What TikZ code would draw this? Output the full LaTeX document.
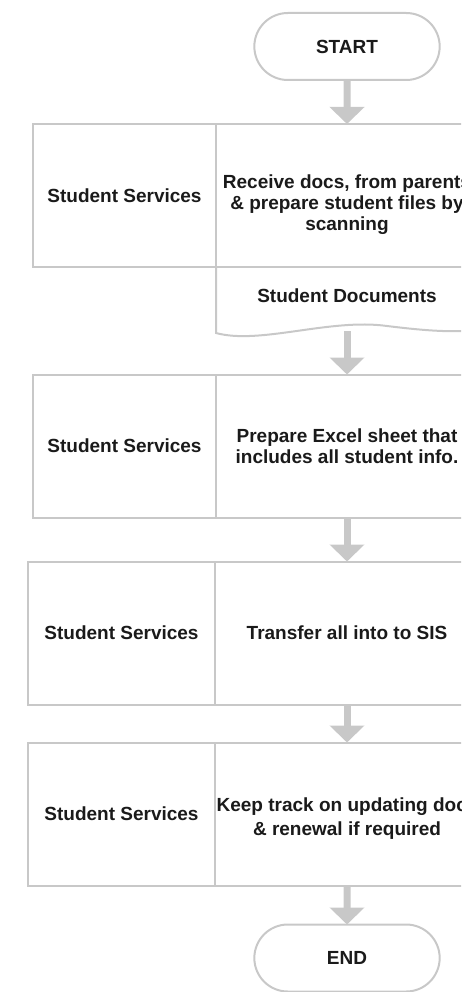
\documentclass[tikz,border=0pt]{standalone}
\usepackage{fontspec}
\setmainfont{Liberation Sans}
\usetikzlibrary{positioning,shapes.misc,arrows.meta}
\definecolor{lineGray}{RGB}{200,200,200}
\definecolor{inkBlack}{RGB}{26,26,26}
\begin{document}
\begin{tikzpicture}[x=1pt,y=-1pt,
  every node/.style={font=\fontsize{19}{21}\selectfont\bfseries,text=inkBlack,align=center,outer sep=0pt},
  terminal/.style={rounded rectangle,draw=lineGray,line width=2pt,minimum width=192pt,minimum height=67pt},
  lane/.style={rectangle,draw=lineGray,line width=2pt,minimum width=183pt,minimum height=143pt},
  task/.style={rectangle,draw=lineGray,line width=2pt,minimum width=262pt,minimum height=143pt},
  flow/.style={draw=lineGray,line width=7pt,-{Triangle[width=34pt,length=17pt]}}]
  \useasboundingbox (0,0) rectangle (461,992);
  \clip (0,0) rectangle (461,992);
  \node[terminal] (start) at (347,46.5) {START};
  \node[lane] (lane1) at (124.5,195.5) {Student Services};
  \node[task,right=0pt of lane1] (task1) {};
  \node (task1text) at ([yshift=-9pt]task1.center) {Receive docs, from parents\\ \& prepare student files by\\ scanning};
  \draw[lineGray,line width=2pt] (task1.south west) -- (216,333)
    .. controls (260,345) and (330,318) .. (387,326)
    .. controls (420,330) and (450,333) .. (478,330) -- (task1.south east);
  \node (docs) at (347,296) {Student Documents};
  \coordinate (docsEnd) at (347,331);
  \node[lane] (lane2) at (124.5,446) {Student Services};
  \node[task,right=0pt of lane2] (task2) {Prepare Excel sheet that\\ includes all student info.};
  \node[lane,minimum width=187pt] (lane3) at (121.5,633) {Student Services};
  \node[task,minimum width=264pt,right=0pt of lane3] (task3) {Transfer all into to SIS};
  \node[lane,minimum width=187pt] (lane4) at (121.5,814) {Student Services};
  \node[task,minimum width=264pt,right=0pt of lane4] (task4) {};
  \node (task4text) at ([yshift=-5pt]task4.center) {Keep track on updating docs\\[3pt] \& renewal if required};
  \node[terminal] (end) at (347,958) {END};
  \draw[flow] (start) -- (task1);
  \draw[flow] (docsEnd) -- (task2.north);
  \draw[flow] (task2) -- (task3);
  \draw[flow] (task3) -- (task4);
  \draw[flow] (task4) -- (end);
\end{tikzpicture}
\end{document}
